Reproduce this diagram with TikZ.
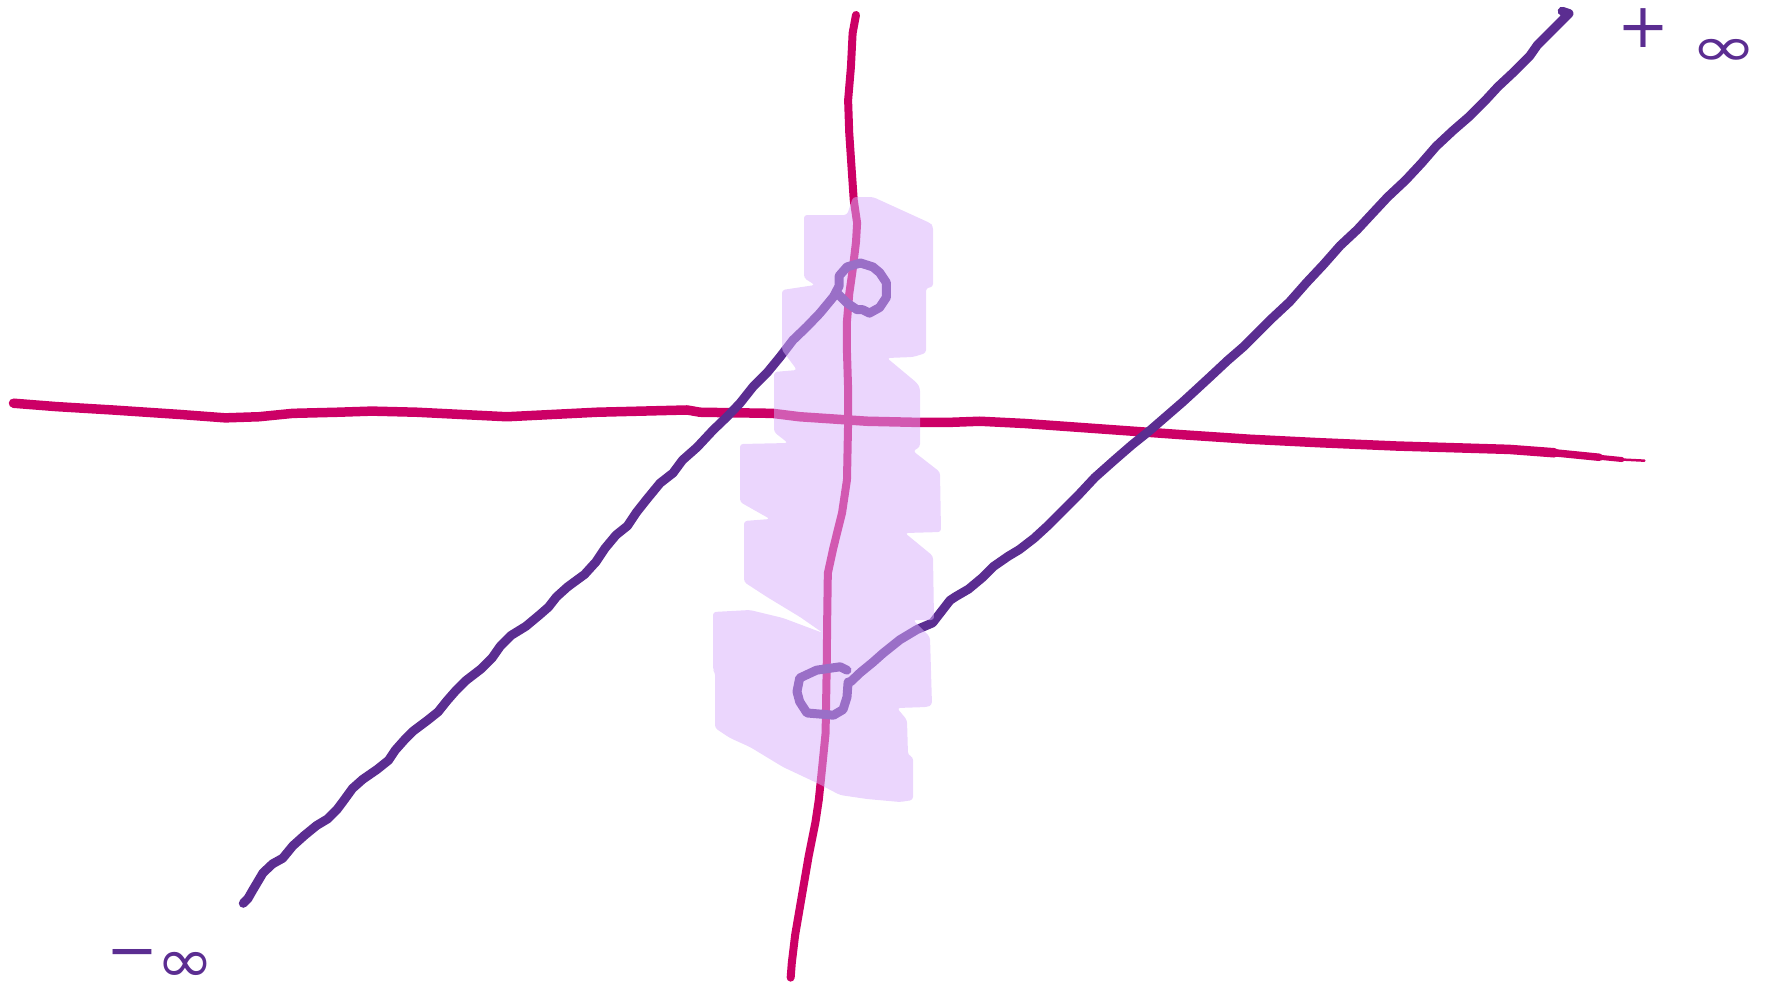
\documentclass[tikz,border=0pt]{standalone}
\usepackage{fontspec}
\usepackage{graphicx}
\newfontfamily\labelfont{DejaVu Sans}
\definecolor{inkmag}{RGB}{204,0,102}
\definecolor{inkpur}{RGB}{91,45,145}
\definecolor{shade}{RGB}{216,175,251}
\begin{document}
\begin{tikzpicture}[x=1pt,y=-1pt,
  magline/.style={draw=inkmag,line width=9.5pt,line cap=round,line join=round},
  magvert/.style={draw=inkmag,line width=8pt,line cap=round,line join=round},
  purline/.style={draw=inkpur,line width=9pt,line cap=round,line join=round},
  shadebox/.style={fill=shade,fill opacity=0.51,draw=none,rounded corners=3pt},
  inflabel/.style={text=inkpur,font=\labelfont\fontsize{62}{62}\selectfont,inner sep=0pt}]
\useasboundingbox (0,0) rectangle (1766,994);
\begin{scope}[scale=1.1263]
% horizontal magenta line
\draw[magline] (12,358) -- (50,361) -- (100,364) -- (160,368) -- (200,371) -- (230,370) -- (260,367) -- (300,366) -- (330,365) -- (370,366) -- (410,368) -- (450,370) -- (490,368) -- (530,366) -- (610,364) -- (621.5,366) -- (686,367) -- (710,370) -- (740,372) -- (770,374) -- (814,375) -- (843,375) -- (870,374) -- (910,376) -- (980,381) -- (1050,386) -- (1110,390) -- (1170,393) -- (1240,396) -- (1340,399) -- (1380,402);
\draw[magline,line width=7.5pt] (1380,402) -- (1420,406);
\draw[magline,line width=5pt] (1420,406) -- (1440,408);
\draw[magline,line width=2.5pt] (1440,408) -- (1460,409);
% vertical magenta line
\draw[magvert] (760,13.3) -- (757,29.5) -- (755.5,59.5) -- (753,89) -- (754,118) -- (756,148) -- (758,177.6) -- (761,198) -- (760,215) -- (757,240) -- (754,261) -- (752,285) -- (752,313) -- (753,345) -- (753,375) -- (752,426) -- (747.6,455.5) -- (740,486) -- (735,509) -- (734.5,544) -- (734,592) -- (733,651) -- (730,681) -- (727,710) -- (724,730) -- (718,760) -- (712,795) -- (706,830) -- (703,855) -- (702,868);
% purple line from -infinity, ending in a loop
\draw[purline] (216,802) -- (220,798) -- (224.6,790) -- (233.5,775) -- (242,767) -- (251,762) -- (260,751) -- (270,742) -- (281,733) -- (291,727) -- (299,719) -- (305,711) -- (313,700) -- (322,692) -- (335,683) -- (345,675) -- (351,666) -- (359,657) -- (367,649) -- (379,640) -- (389,632) -- (397,622) -- (404,614) -- (414,604) -- (427,594) -- (437,584) -- (444,574) -- (454,564) -- (467,556) -- (479,546) -- (487,539) -- (494,530) -- (504,521) -- (519,510) -- (529,499) -- (537,487) -- (547,475) -- (557,467) -- (565,455) -- (574.5,443) -- (586,429) -- (597.5,420) -- (606,408.5) -- (619,397) -- (633,382) -- (645.5,370) -- (657,358) -- (668.5,343.5) -- (681,331) -- (692.5,317) -- (704,302) -- (716.5,290) -- (728,278) -- (740,263.5) -- (745,254) -- (745,245) -- (752,237) -- (764,233.5) -- (775,237) -- (781,242) -- (787,251) -- (787,264) -- (781,273) -- (772,278) -- (766,275) -- (761,275) -- (752,269) -- (743,260);
% purple line to +infinity, starting in a loop
\draw[purline] (752,595) -- (746,592) -- (725,595) -- (710,602) -- (707.6,614) -- (710,623) -- (716.5,633) -- (740,635) -- (748.5,630) -- (752,619) -- (753,605.5) -- (755,605.5) -- (764,597) -- (775,588) -- (784,580) -- (799,568) -- (814,559) -- (828,553) -- (843.5,533) -- (848,530) -- (860,523) -- (872,513) -- (882,503) -- (895,494) -- (905,488) -- (918,478) -- (930,467) -- (945,452) -- (958,439) -- (972,424) -- (990,408) -- (1005,395) -- (1020,383) -- (1035,370) -- (1050,357) -- (1062,346) -- (1075,334) -- (1090,320) -- (1105,307) -- (1115,297) -- (1130,282) -- (1145,268) -- (1160,251) -- (1175,235) -- (1190,218) -- (1205,204) -- (1218,190) -- (1232,175) -- (1248,160) -- (1262,145) -- (1275,130) -- (1290,116) -- (1305,103) -- (1318,90) -- (1330,77) -- (1345,63) -- (1358,50) -- (1365,40) -- (1375,30) -- (1385,20) -- (1393,12) -- (1387,10);
\end{scope}
% translucent shaded region
\fill[shadebox] (804,215) -- (847,215) -- (853,197) -- (873,197) -- (930,223) -- (933,226) -- (933,287) -- (926,288) -- (926,353) -- (913,357) -- (887,358) -- (917,383) -- (920,388) -- (920,447) -- (913,451) -- (940,472) -- (941,532) -- (905,533) -- (933,556) -- (934,620) -- (913,620) -- (930,637) -- (932,705) -- (927,707) -- (897,708) -- (907,720) -- (908,755) -- (913,757) -- (913,800) -- (900,802) -- (867,799) -- (840,795) -- (817,783) -- (783,767) -- (750,747) -- (730,738) -- (715,728) -- (715,672) -- (713,670) -- (713,612) -- (750,610) -- (783,618) -- (823,633) -- (800,617) -- (767,597) -- (744,582) -- (744,521) -- (770,519) -- (740,502) -- (740,444) -- (788,443) -- (774,432) -- (774,372) -- (797,370) -- (782,350) -- (782,290) -- (815,285) -- (804,278) -- cycle;
% labels
\node[inflabel,anchor=base west] (posinf) at (1617,66) {\raisebox{0.3em}{+}\hspace{0.35em}\scalebox{1.3}[0.9]{∞}};
\node[inflabel,anchor=base west] (neginf) at (106,982) {\raisebox{0.17em}{−}\hspace{-0.03em}\scalebox{1.12}[1]{∞}};
\end{tikzpicture}
\end{document}
